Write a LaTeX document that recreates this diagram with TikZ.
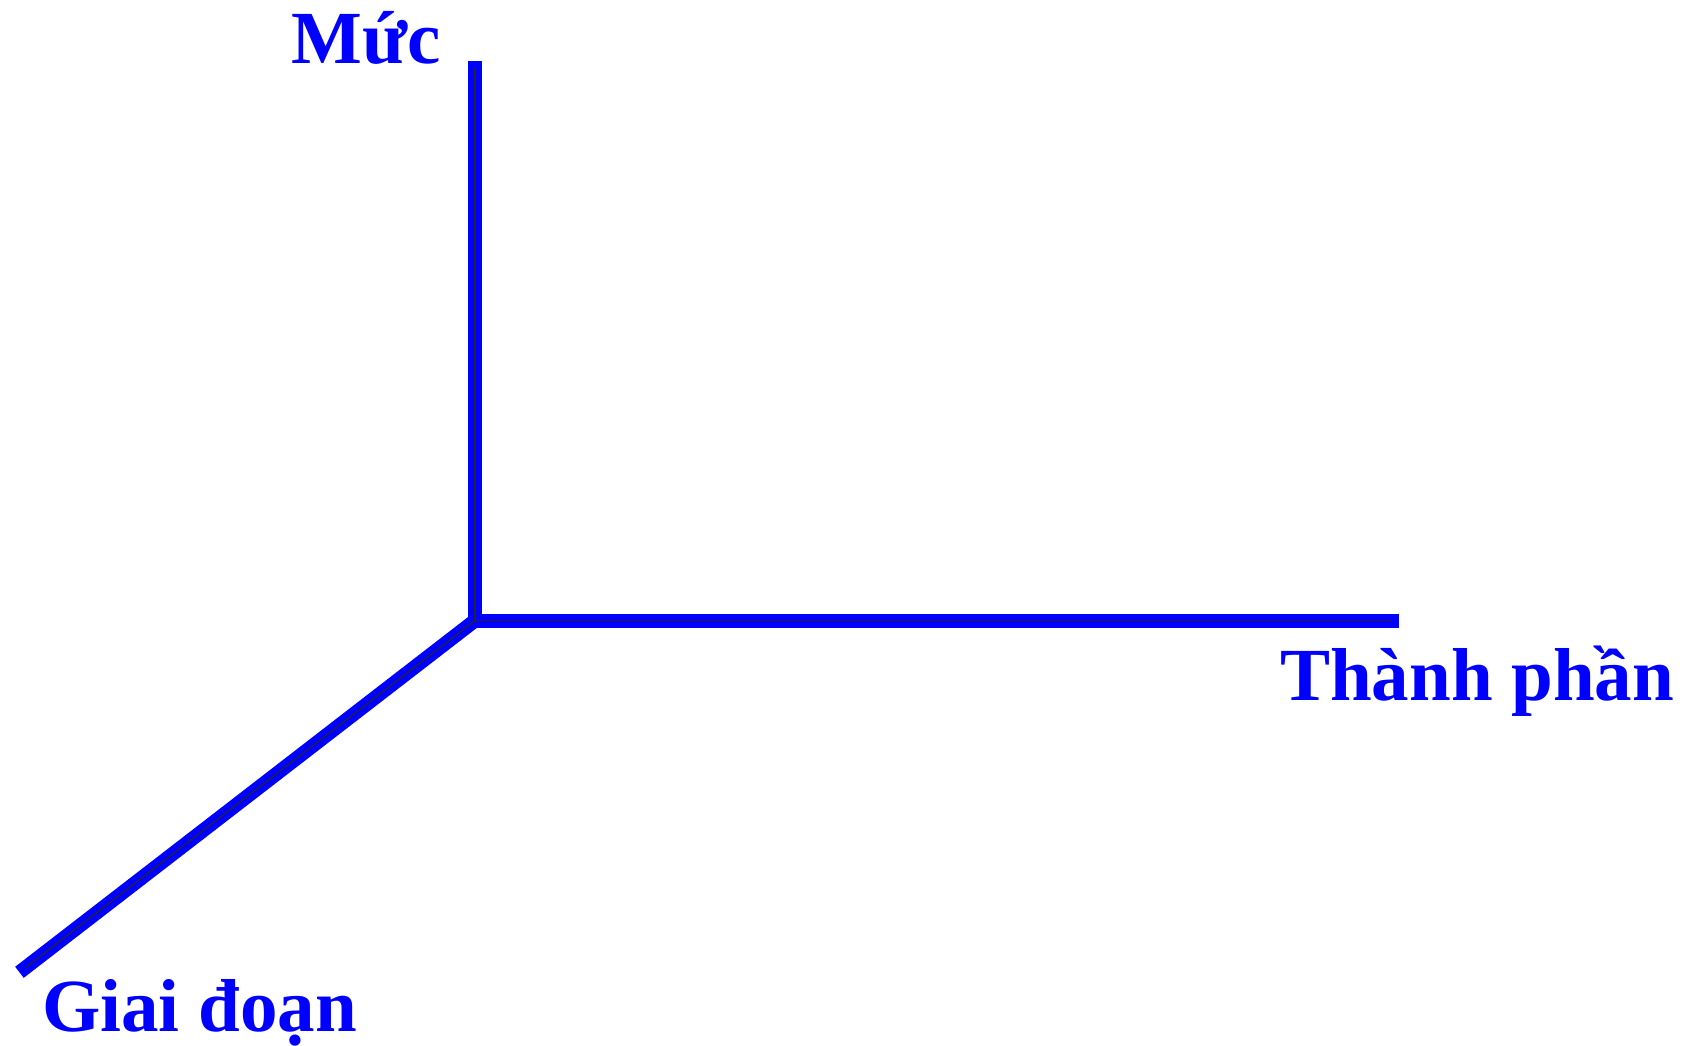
\documentclass[tikz,border=0pt]{standalone}
\usepackage{fontspec}
\setmainfont{Liberation Serif}
\begin{document}
\begin{tikzpicture}[x=1pt,y=-1pt,
  axisblue/.style={draw={rgb,255:red,0;green,0;blue,255},line width=14pt,line cap=rect,line join=round},
  axiscore/.style={draw=black!85,line width=1.2pt},
  axislabel/.style={text={rgb,255:red,0;green,0;blue,255},font=\fontsize{75}{90}\selectfont\bfseries,inner sep=0pt,anchor=base west}]
\useasboundingbox (0,0) rectangle (1699,1045);
\coordinate (O) at (475,620.5);
\coordinate (T) at (475,68);
\coordinate (R) at (1392,620.5);
\coordinate (L) at (25,968);
\draw[axisblue] (T) -- (O) -- (R);
\draw[axisblue] (O) -- (L);
\draw[axiscore] (T) -- (O) -- (R);
\draw[axiscore] (O) -- (L);
\node[axislabel] (muc) at (291,63) {Mức};
\node[axislabel] (thanhphan) at (1280,700) {Thành phần};
\node[axislabel] (giaidoan) at (42,1031) {Giai đoạn};
\end{tikzpicture}
\end{document}
